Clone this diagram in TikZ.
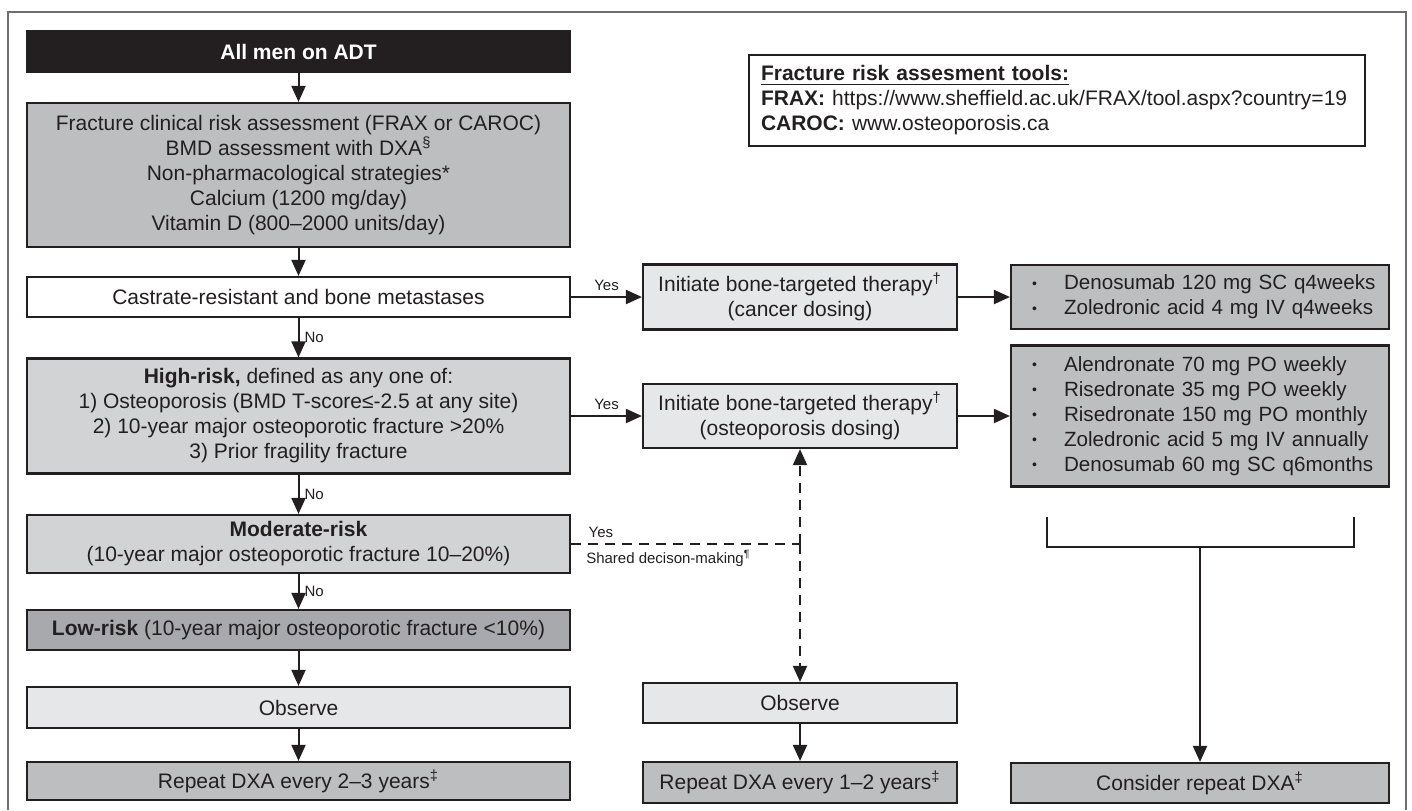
\documentclass[tikz,border=0pt]{standalone}
\usepackage{fontspec}
\setmainfont{Liberation Sans}
\usetikzlibrary{arrows.meta}
\definecolor{inkblack}{HTML}{231F20}
\definecolor{graymid}{HTML}{BCBEC0}
\definecolor{graylight}{HTML}{D1D3D4}
\definecolor{graypale}{HTML}{E6E7E8}
\definecolor{graydark}{HTML}{A7A9AC}
\definecolor{framegray}{HTML}{6D6E71}
\newcommand{\itm}[1]{\mbox{\hspace{2.5pt}\makebox[16pt][l]{\raisebox{.8pt}{\fontsize{7}{7}\selectfont •}}#1}}
\tikzset{
	box/.style={draw=inkblack, line width=1.1pt, inner sep=0pt, align=center, text=inkblack, font=\fontsize{10.5}{12.5}\selectfont},
	listbox/.style={box, fill=graymid, align=left, inner xsep=8pt, text width=173pt, font=\fontsize{10.3}{12.5}\selectfont},
	lbl/.style={text=inkblack, font=\fontsize{7.5}{9}\selectfont, inner sep=2.5pt},
	arr/.style={draw=inkblack, line width=1pt, -{Triangle[length=8pt,width=7pt]}},
	dsh/.style={draw=inkblack, line width=1pt, dash pattern=on 5pt off 3.5pt},
}

\begin{document}
\begin{tikzpicture}[x=.5pt, y=-.5pt]
	\useasboundingbox (0,0) rectangle (1412,810);
	\draw [framegray, line width=.8pt] (8,810) |- (1406,12) -- (1406,810);

	% left column
	\node [box, fill=inkblack, text=white, font=\fontsize{10.5}{12.5}\selectfont\bfseries, minimum width=271.5pt, minimum height=20.5pt] (adt) at (298.5,51.5) {All men on ADT};
	\node [box, fill=graymid, minimum width=271.5pt, minimum height=72pt] (assess) at (298.5,175) {Fracture clinical risk assessment (FRAX or CAROC)\\BMD assessment with DXA\textsuperscript{§}\\Non-pharmacological strategies*\\Calcium (1200 mg/day)\\Vitamin D (800–2000 units/day)};
	\node [box, fill=white, minimum width=271.5pt, minimum height=20pt] (crpc) at (298.5,297) {Castrate-resistant and bone metastases};
	\node [box, fill=graylight, minimum width=271.5pt, minimum height=57.5pt] (high) at (298.5,416) {\textbf{High-risk,} defined as any one of:\\1) Osteoporosis (BMD T-score≤-2.5 at any site)\\2) 10-year major osteoporotic fracture >20\%\\3) Prior fragility fracture};
	\node [box, fill=graylight, minimum width=271.5pt, minimum height=29pt] (moder) at (298.5,544) {\textbf{Moderate-risk}\\(10-year major osteoporotic fracture 10–20\%)};
	\node [box, fill=graydark, minimum width=271.5pt, minimum height=20pt] (low) at (298.5,630) {\textbf{Low-risk} (10-year major osteoporotic fracture <10\%)};
	\node [box, fill=graypale, minimum width=271.5pt, minimum height=20.5pt] (obs1) at (298.5,707.5) {Observe};
	\node [box, fill=graymid, minimum width=271.5pt, minimum height=19pt] (rep1) at (298.5,781) {Repeat DXA every 2–3 years\textsuperscript{‡}};

	% middle column
	\node [box, fill=graypale, minimum width=157pt, minimum height=32.5pt] (initc) at (800,297) {Initiate bone-targeted therapy\textsuperscript{†}\\(cancer dosing)};
	\node [box, fill=graypale, minimum width=157pt, minimum height=32pt] (inito) at (800,416) {Initiate bone-targeted therapy\textsuperscript{†}\\(osteoporosis dosing)};
	\node [box, fill=graypale, minimum width=157pt, minimum height=20pt] (obs2) at (800,703) {Observe};
	\node [box, fill=graymid, minimum width=157pt, minimum height=20.5pt] (rep2) at (800,782.5) {Repeat DXA every 1–2 years\textsuperscript{‡}};

	% right column
	\node [listbox, minimum height=32pt] (dcan) at (1200,297) {\itm{Denosumab 120 mg SC q4weeks}\\\itm{Zoledronic acid 4 mg IV q4weeks}};
	\node [listbox, minimum height=70.5pt] (dost) at (1200,416) {\itm{Alendronate 70 mg PO weekly}\\\itm{Risedronate 35 mg PO weekly}\\\itm{Risedronate 150 mg PO monthly}\\\itm{Zoledronic acid 5 mg IV annually}\\\itm{Denosumab 60 mg SC q6months}};
	\node [box, fill=graymid, minimum width=189pt, minimum height=20pt] (cons) at (1200,783) {Consider repeat DXA\textsuperscript{‡}};

	\node [box, fill=white, align=left, inner xsep=6pt, text width=296pt, minimum height=45.5pt] (tools) at (1057,100.5) {\underline{\textbf{Fracture risk assesment tools:}}\\\textbf{FRAX:} https://www.sheffield.ac.uk/FRAX/tool.aspx?country=19\\\textbf{CAROC:} www.osteoporosis.ca};

	\draw [arr] (adt) -- (assess);
	\draw [arr] (assess) -- (crpc);
	\draw [arr] (crpc) -- node [lbl, right] {No} (high);
	\draw [arr] (high) -- node [lbl, right] {No} (moder);
	\draw [arr] (moder) -- node [lbl, right] {No} (low);
	\draw [arr] (low) -- (obs1);
	\draw [arr] (obs1) -- (rep1);
	\draw [arr] (obs2) -- (rep2);

	\draw [arr] (crpc) -- node [lbl, above] {Yes} (initc);
	\draw [arr] (high) -- node [lbl, above] {Yes} (inito);
	\draw [arr] (initc) -- (dcan);
	\draw [arr] (inito) -- (dost);

	% shared decision branch
	\coordinate (split) at (inito.south |- moder.east);
	\draw [dsh] (moder.east) -- node [lbl, above, pos=.13] {Yes} node [lbl, below right, pos=.04] {Shared decison-making\textsuperscript{¶}} (split);
	\draw [dsh, arr] (split) -- (inito.south);
	\draw [dsh, arr] (split) -- (obs2.north);

	% bracket over osteoporosis options
	\coordinate (brk) at (1200,547);
	\draw [draw=inkblack, line width=1pt] (1047,517) |- (brk) -| (1354,517);
	\draw [arr] (brk) -- (cons.north);
\end{tikzpicture}
\end{document}
